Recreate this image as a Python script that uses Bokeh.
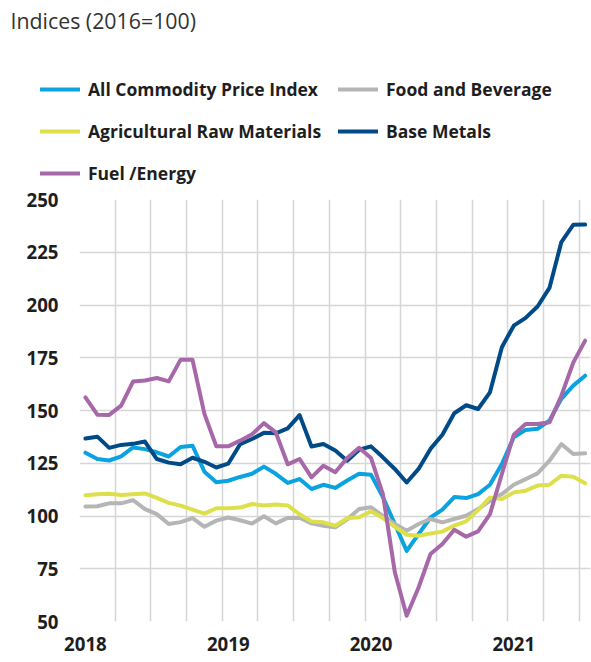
from bokeh.plotting import figure
from bokeh.models import Legend, LegendItem, Label, FixedTicker, Range1d
from bokeh.layouts import column, row
from bokeh.embed import file_html
from bokeh.resources import INLINE

# ---- data (monthly, Jan 2018 - Jul 2021), indices 2016=100 ----
month_names = ["Jan", "Feb", "Mar", "Apr", "May", "Jun",
               "Jul", "Aug", "Sep", "Oct", "Nov", "Dec"]
years = [2018, 2019, 2020, 2021]
months = [f"{m} {y}" for y in years for m in month_names][:43]
year_labels = ["2018", "2019", "2020", "2021"]

all_commodity = [130.0, 127.0, 126.3, 128.3, 132.5, 131.7, 130.2, 128.2, 132.7, 133.3,
                 121.0, 116.0, 116.7, 118.5, 120.0, 123.4, 120.0, 115.7, 117.5, 112.8,
                 114.8, 113.3, 116.8, 120.0, 119.6, 109.0, 96.2, 83.5, 91.4, 99.3,
                 103.0, 109.0, 108.5, 110.4, 114.8, 124.6, 137.3, 140.8, 141.3, 145.2,
                 155.5, 161.8, 166.5]
food_beverage = [104.5, 104.6, 106.0, 106.0, 107.5, 103.3, 100.9, 96.2, 97.1, 99.0,
                 94.9, 97.8, 99.3, 98.0, 96.4, 99.9, 96.5, 99.1, 99.2, 96.5,
                 95.4, 94.6, 98.4, 103.3, 104.1, 100.1, 96.2, 93.0, 96.2, 98.6,
                 97.0, 98.6, 100.1, 103.3, 107.2, 110.4, 114.8, 117.5, 120.2, 126.2,
                 134.1, 129.4, 129.7]
agri_raw = [109.8, 110.3, 110.5, 110.0, 110.3, 110.7, 108.6, 106.2, 104.9, 103.0,
            101.1, 103.7, 103.7, 104.0, 105.7, 105.0, 105.4, 105.0, 100.8, 97.4,
            97.0, 95.4, 98.9, 99.4, 102.2, 99.0, 94.9, 91.1, 90.6, 91.7,
            92.6, 95.5, 97.5, 102.8, 108.8, 108.0, 111.2, 112.0, 114.4, 114.8,
            119.1, 118.6, 115.5]
base_metals = [136.7, 137.6, 132.3, 133.7, 134.2, 135.3, 127.0, 125.3, 124.5, 127.6,
               125.7, 123.0, 124.8, 134.0, 136.5, 139.4, 139.2, 141.5, 147.8, 132.9,
               134.1, 131.0, 126.2, 131.4, 133.0, 127.8, 122.3, 115.9, 122.3, 131.8,
               138.5, 148.7, 152.5, 150.7, 158.6, 180.0, 190.2, 193.9, 199.3, 208.1,
               229.8, 238.0, 238.1]
fuel_energy = [156.2, 148.0, 147.9, 152.3, 163.7, 164.2, 165.4, 163.8, 174.1, 174.0,
               148.4, 133.0, 133.0, 135.7, 138.7, 144.0, 139.6, 124.5, 127.0, 118.3,
               123.8, 120.7, 127.5, 132.3, 127.5, 110.4, 73.5, 52.7, 66.1, 82.0,
               86.7, 93.5, 90.2, 92.7, 100.9, 119.9, 138.5, 143.6, 143.6, 144.4,
               157.0, 172.7, 183.1]

series_names = ["All Commodity Price Index", "Food and Beverage",
                "Agricultural Raw Materials", "Base Metals", "Fuel /Energy"]
series_colors = ["#0AA3E0", "#B5B5B5", "#DDE04A", "#004B87", "#A668A8"]
y_ticks = [50, 75, 100, 125, 150, 175, 200, 225, 250]
title_text = "Indices (2016=100)"

x = list(range(len(months)))
data = [all_commodity, food_beverage, agri_raw, base_metals, fuel_energy]

FONT = "Open Sans"
TEXT = "#1E1E1E"

# ---------------- header: title + legend ----------------
HEAD_H = 186
head = figure(width=591, height=HEAD_H, output_backend="svg", toolbar_location=None,
              x_range=Range1d(0, 1), y_range=Range1d(0, 1),
              x_axis_location=None, y_axis_location=None,
              min_border=0, min_border_left=0, min_border_right=0,
              min_border_top=0, min_border_bottom=0)
head.outline_line_color = None
head.grid.visible = False
head.background_fill_color = "white"
head.border_fill_color = "white"

# legend keys: the same series, lying outside this header's visible range
proxies = [head.line(x, ys, line_color=c, line_width=4, line_cap="round")
           for ys, c in zip(data, series_colors)]

def make_legend(idx, loc):
    lg = Legend(items=[LegendItem(label=series_names[i], renderers=[proxies[i]]) for i in idx],
                location=loc, orientation="vertical")
    lg.border_line_color = None
    lg.background_fill_alpha = 0
    lg.padding = 0
    lg.margin = 0
    lg.spacing = 18
    lg.glyph_width = 40
    lg.glyph_height = 24
    lg.label_height = 24
    lg.label_standoff = 8
    lg.label_text_font = FONT
    lg.label_text_font_style = "bold"
    lg.label_text_font_size = "17.5px"
    lg.label_text_color = TEXT
    return lg

head.add_layout(make_legend([0, 2, 4], (40, HEAD_H - 185.3)))
head.add_layout(make_legend([1, 3], (338, HEAD_H - 143.3)))

head.add_layout(Label(x=10, y=HEAD_H - 20.0, x_units="screen", y_units="screen",
                      text=title_text, text_font=FONT, text_font_size="21.33px",
                      text_color="#333333", text_baseline="alphabetic",
                      text_align="left"))

# ---------------- main chart ----------------
p = figure(width=591, height=662 - HEAD_H, output_backend="svg", toolbar_location=None,
           x_range=Range1d(-0.5, 42.45), y_range=Range1d(50, 250),
           min_border_left=79, min_border_right=1, min_border_top=199 - HEAD_H,
           min_border_bottom=41)
p.outline_line_color = None
p.background_fill_color = "white"
p.border_fill_color = "white"

p.xgrid.ticker = FixedTicker(ticks=[-0.5 + 3 * k for k in range(15)])
p.ygrid.ticker = FixedTicker(ticks=y_ticks)
for g in (p.xgrid, p.ygrid):
    g.grid_line_color = "#D6D6D6"
    g.grid_line_width = 1.5

jan_idx = [months.index(f"Jan {y}") for y in years]
p.xaxis.ticker = FixedTicker(ticks=jan_idx)
p.xaxis.major_label_overrides = {i: lab for i, lab in zip(jan_idx, year_labels)}
p.yaxis.ticker = FixedTicker(ticks=y_ticks)
for ax in (p.xaxis, p.yaxis):
    ax.axis_line_color = None
    ax.major_tick_line_color = None
    ax.minor_tick_line_color = None
    ax.major_tick_out = 0
    ax.major_tick_in = 0
    ax.major_label_text_font = FONT
    ax.major_label_text_font_style = "bold"
    ax.major_label_text_font_size = "18.67px"
    ax.major_label_text_color = TEXT
p.yaxis.major_label_standoff = 21
p.xaxis.major_label_standoff = 15

for ys, col in zip(data, series_colors):
    p.line(x, ys, line_color=col, line_width=4, line_join="round", line_cap="round")

layout = column(row(head), p, spacing=0)
open("out.html", "w").write(file_html(layout, INLINE))
